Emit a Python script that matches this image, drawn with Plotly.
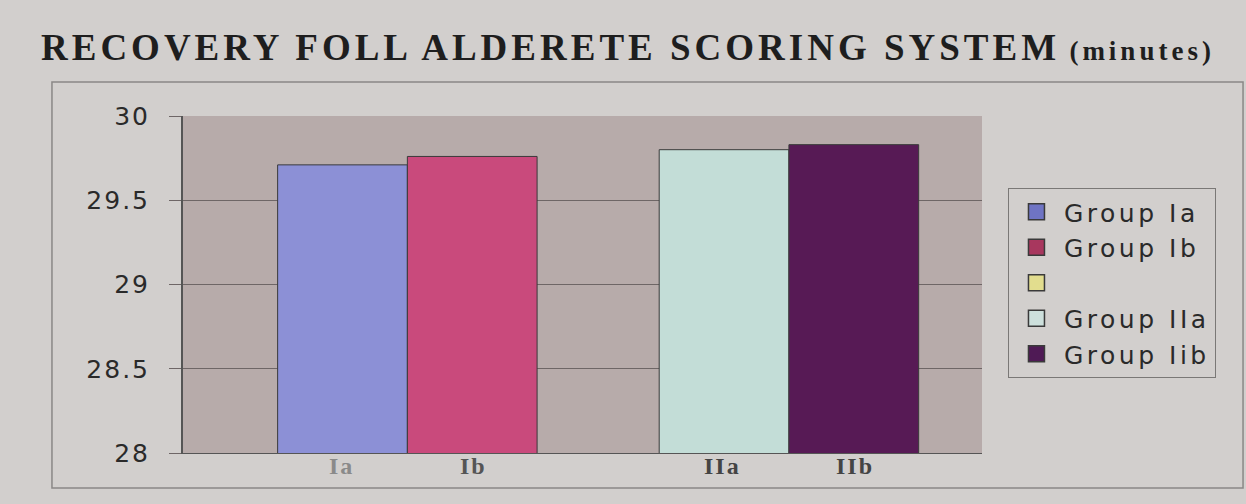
import plotly.graph_objects as go

# ---- data ----
groups = ["I", "II"]
series_names = ["Group Ia", "Group Ib", " ", "Group IIa", "Group Iib"]
series_group = ["I", "I", None, "II", "II"]
series_slot = ["a", "b", "a", "a", "b"]
series_values = [29.71, 29.76, None, 29.80, 29.83]
bar_labels = ["Ia", "Ib", "IIa", "IIb"]
y_ticks = [28, 28.5, 29, 29.5, 30]

bar_colors = ["#8c90d6", "#c94a7c", "#e2dd8e", "#c3ddd7", "#571a55"]
legend_colors = ["#6f74c4", "#a8375e", "#e2dd8e", "#cde0dc", "#4f1a55"]

fig = go.Figure()
for name, g, slot, v, c in zip(series_names, series_group, series_slot, series_values, bar_colors):
    if g is None:
        continue
    fig.add_trace(go.Bar(
        x=[g], y=[v], name=name, offsetgroup=slot,
        marker=dict(color=c, line=dict(color="#3a3a3a", width=1)),
        showlegend=False,
    ))

# legend entries (square swatches)
for name, c in zip(series_names, legend_colors):
    fig.add_trace(go.Scatter(
        x=[None], y=[None], mode="markers",
        name=f"<span style='letter-spacing:3.5px'>{name}</span>",
        marker=dict(symbol="square", size=16, color=c, line=dict(color="#3a3a3a", width=1.5)),
        showlegend=True,
    ))

# labels under each bar
shift = 66
label_pos = [("I", -shift), ("I", shift), ("II", -shift), ("II", shift)]
label_colors = ["#8a8a8a", "#555555", "#444444", "#444444"]
for lab, (g, xs), lc in zip(bar_labels, label_pos, label_colors):
    fig.add_annotation(x=g, xshift=xs, y=0, yref="paper", yshift=-13, yanchor="middle",
                       text=f"<b><span style='letter-spacing:2px'>{lab}</span></b>", showarrow=False,
                       font=dict(family="Liberation Serif", size=24, color=lc))

# title
fig.add_annotation(x=0.557, xref="paper", xanchor="center", y=1.2018, yref="paper",
                   yanchor="middle",
                   text="<b><span style='letter-spacing:4px'>RECOVERY FOLL ALDERETE SCORING SYSTEM</span></b> "
                        "<b><span style='font-size:27px;letter-spacing:4px'>(minutes)</span></b>",
                   showarrow=False,
                   font=dict(family="Liberation Serif", size=37, color="#1e1e1e"))

# outer chart frame
fig.add_shape(type="rect", xref="paper", yref="paper",
              x0=-0.164, x1=1.3267, y0=-0.104, y1=1.101,
              line=dict(color="#8a8886", width=1.5), fillcolor="rgba(0,0,0,0)", layer="below")

fig.update_layout(
    width=1246, height=504,
    margin=dict(l=183, r=264, t=116, b=51),
    paper_bgcolor="#d2cfcd",
    plot_bgcolor="#b7abaa",
    barmode="group",
    bargap=0.32,
    bargroupgap=0,
    showlegend=True,
    legend=dict(x=1.0325, xanchor="left", y=0.786, yanchor="top",
                bgcolor="#d2cfcd", bordercolor="#7a7876", borderwidth=1,
                font=dict(family="DejaVu Sans", size=25, color="#2a2a2a"),
                itemsizing="trace", itemwidth=45, tracegroupgap=0),
    xaxis=dict(type="category", categoryorder="array", categoryarray=groups,
               range=[-0.588, 1.506],
               showticklabels=False, showgrid=False, zeroline=False,
               showline=True, linecolor="#555555", linewidth=1),
    yaxis=dict(range=[28, 30], tickvals=y_ticks,
               ticktext=[f"<span style='letter-spacing:2px'>{t:g}</span>" for t in y_ticks],
               showgrid=True, gridcolor="#6e6666", gridwidth=1,
               ticks="outside", ticklen=12, tickcolor="#6e6666",
               ticklabelstandoff=14,
               showline=True, linecolor="#555555", linewidth=2,
               tickfont=dict(family="DejaVu Sans", size=25, color="#2a2a2a"),
               zeroline=False),
)

fig.write_html("out.html")
